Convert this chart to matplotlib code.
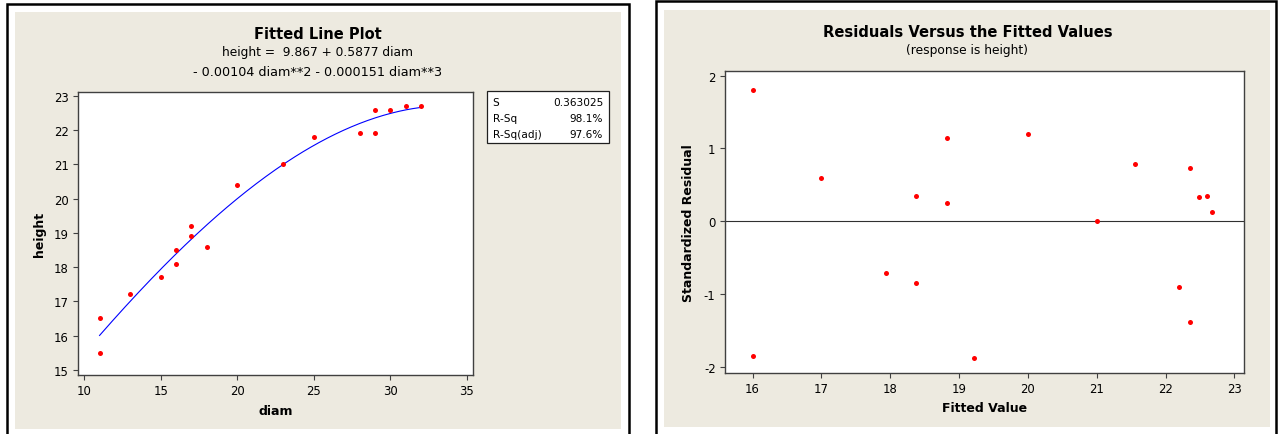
import matplotlib
matplotlib.use("Agg")
import matplotlib.pyplot as plt
import numpy as np
from matplotlib.patches import Rectangle

# tree measurements
diam = [11, 11, 13, 15, 16, 16, 17, 17, 18, 20, 23, 25, 28, 29, 29, 30, 31, 32]
height = [16.5, 15.5, 17.2, 17.7, 18.5, 18.1, 19.2, 18.9, 18.6, 20.4, 21.0,
          21.8, 21.9, 22.6, 21.9, 22.6, 22.7, 22.7]

# cubic fit: height = b0 + b1*diam + b2*diam^2 + b3*diam^3
coef = [9.867, 0.5877, -0.00104, -0.000151]
stat_names = ["S", "R-Sq", "R-Sq(adj)"]
stat_values = ["0.363025", "98.1%", "97.6%"]

# fitted values and standardized residuals
fitted = [16.0, 16.0, 17.0, 17.94, 18.38, 18.38, 18.82, 18.82, 19.22, 20.0,
          21.0, 21.56, 22.2, 22.36, 22.36, 22.49, 22.6, 22.67]
std_resid = [1.81, -1.86, 0.60, -0.71, 0.34, -0.85, 1.14, 0.25, -1.88, 1.20,
             0.0, 0.79, -0.91, 0.73, -1.38, 0.33, 0.34, 0.13]

W, H = 1278, 435
PANEL = "#EDEAE0"
FRAME = "#404040"

plt.rcParams["font.family"] = ["DejaVu Sans"]
plt.rcParams["axes.unicode_minus"] = False


def fx(px):
    return px / W


def fy(py):
    return 1 - py / H


def add_axes(fig, x0, y0, x1, y1):
    ax = fig.add_axes([fx(x0), fy(y1), fx(x1) - fx(x0), fy(y0) - fy(y1)])
    ax.set_facecolor("white")
    for s in ax.spines.values():
        s.set_color(FRAME)
        s.set_linewidth(1.0)
    ax.tick_params(direction="out", length=3.8, width=0.8, color=FRAME,
                   labelsize=8.4, pad=3)
    return ax


fig = plt.figure(figsize=(W / 100, H / 100), dpi=100)
fig.patch.set_facecolor("white")

# outer frames and beige panels, kept behind the axes
for x0, x1, ytop in [(7.2, 629, 5.3), (656.2, 1275.5, 2.2)]:
    fig.lines.append(plt.Line2D([fx(x0), fx(x0), fx(x1), fx(x1)],
                                [fy(H + 5), fy(ytop), fy(ytop), fy(H + 5)],
                                transform=fig.transFigure, color="black",
                                linewidth=1.8, solid_joinstyle="miter", zorder=-5))
for x0, x1, y0, y1 in [(15, 621, 12.7, 430), (664, 1270, 10.7, 427.7)]:
    fig.patches.append(Rectangle((fx(x0), fy(y1)), fx(x1) - fx(x0), fy(y0) - fy(y1),
                                 transform=fig.transFigure, facecolor=PANEL,
                                 edgecolor="none", zorder=-10))

# fitted line plot
ax1 = add_axes(fig, 78, 92.7, 472.7, 376)
d = np.linspace(min(diam), max(diam), 200)
ax1.plot(d, np.polyval(coef[::-1], d), color="blue", linewidth=0.8)
ax1.plot(diam, height, "o", color="red", markersize=3.6, markeredgewidth=0)
ax1.set_xlim(9.59, 35.39)
ax1.set_ylim(14.85, 23.12)
ax1.set_xticks([10, 15, 20, 25, 30, 35])
ax1.set_yticks(range(15, 24))
ax1.set_xlabel("diam", fontsize=9, fontweight="bold", labelpad=4.5)
ax1.set_ylabel("height", fontsize=9, fontweight="bold", labelpad=5.5)

fig.text(fx(318), fy(39), "Fitted Line Plot", ha="center", va="baseline",
         fontsize=10.5, fontweight="bold")
fig.text(fx(317), fy(55.7), "height =  9.867 + 0.5877 diam", ha="center",
         va="baseline", fontsize=8.8)
fig.text(fx(318), fy(76.5), "- 0.00104 diam**2 - 0.000151 diam**3", ha="center",
         va="baseline", fontsize=9.2)

# summary statistics box
fig.patches.append(Rectangle((fx(487.3), fy(144)), fx(609.3) - fx(487.3),
                             fy(92.3) - fy(144), transform=fig.transFigure,
                             facecolor="white", edgecolor="#202020", linewidth=0.9))
for i, (name, val) in enumerate(zip(stat_names, stat_values)):
    yy = fy(103 + i * 15.8)
    fig.text(fx(492.5), yy, name, ha="left", va="center", fontsize=7.6)
    fig.text(fx(603), yy, val, ha="right", va="center", fontsize=7.6)

# residuals versus fits
ax2 = add_axes(fig, 725, 71.7, 1244, 374)
ax2.axhline(0, color="#303030", linewidth=0.8)
ax2.plot(fitted, std_resid, "o", color="red", markersize=3.6, markeredgewidth=0)
ax2.set_xlim(15.60, 23.14)
ax2.set_ylim(-2.087, 2.069)
ax2.set_xticks(range(16, 24))
ax2.set_yticks([-2, -1, 0, 1, 2])
ax2.set_xlabel("Fitted Value", fontsize=9, fontweight="bold", labelpad=4)
ax2.set_ylabel("Standardized Residual", fontsize=9, fontweight="bold", labelpad=6)

fig.text(fx(967.5), fy(36.7), "Residuals Versus the Fitted Values", ha="center",
         va="baseline", fontsize=10.6, fontweight="bold")
fig.text(fx(967.5), fy(54.3), "(response is height)", ha="center", va="baseline",
         fontsize=8.8)

fig.savefig("out.png", dpi=100, facecolor="white")
